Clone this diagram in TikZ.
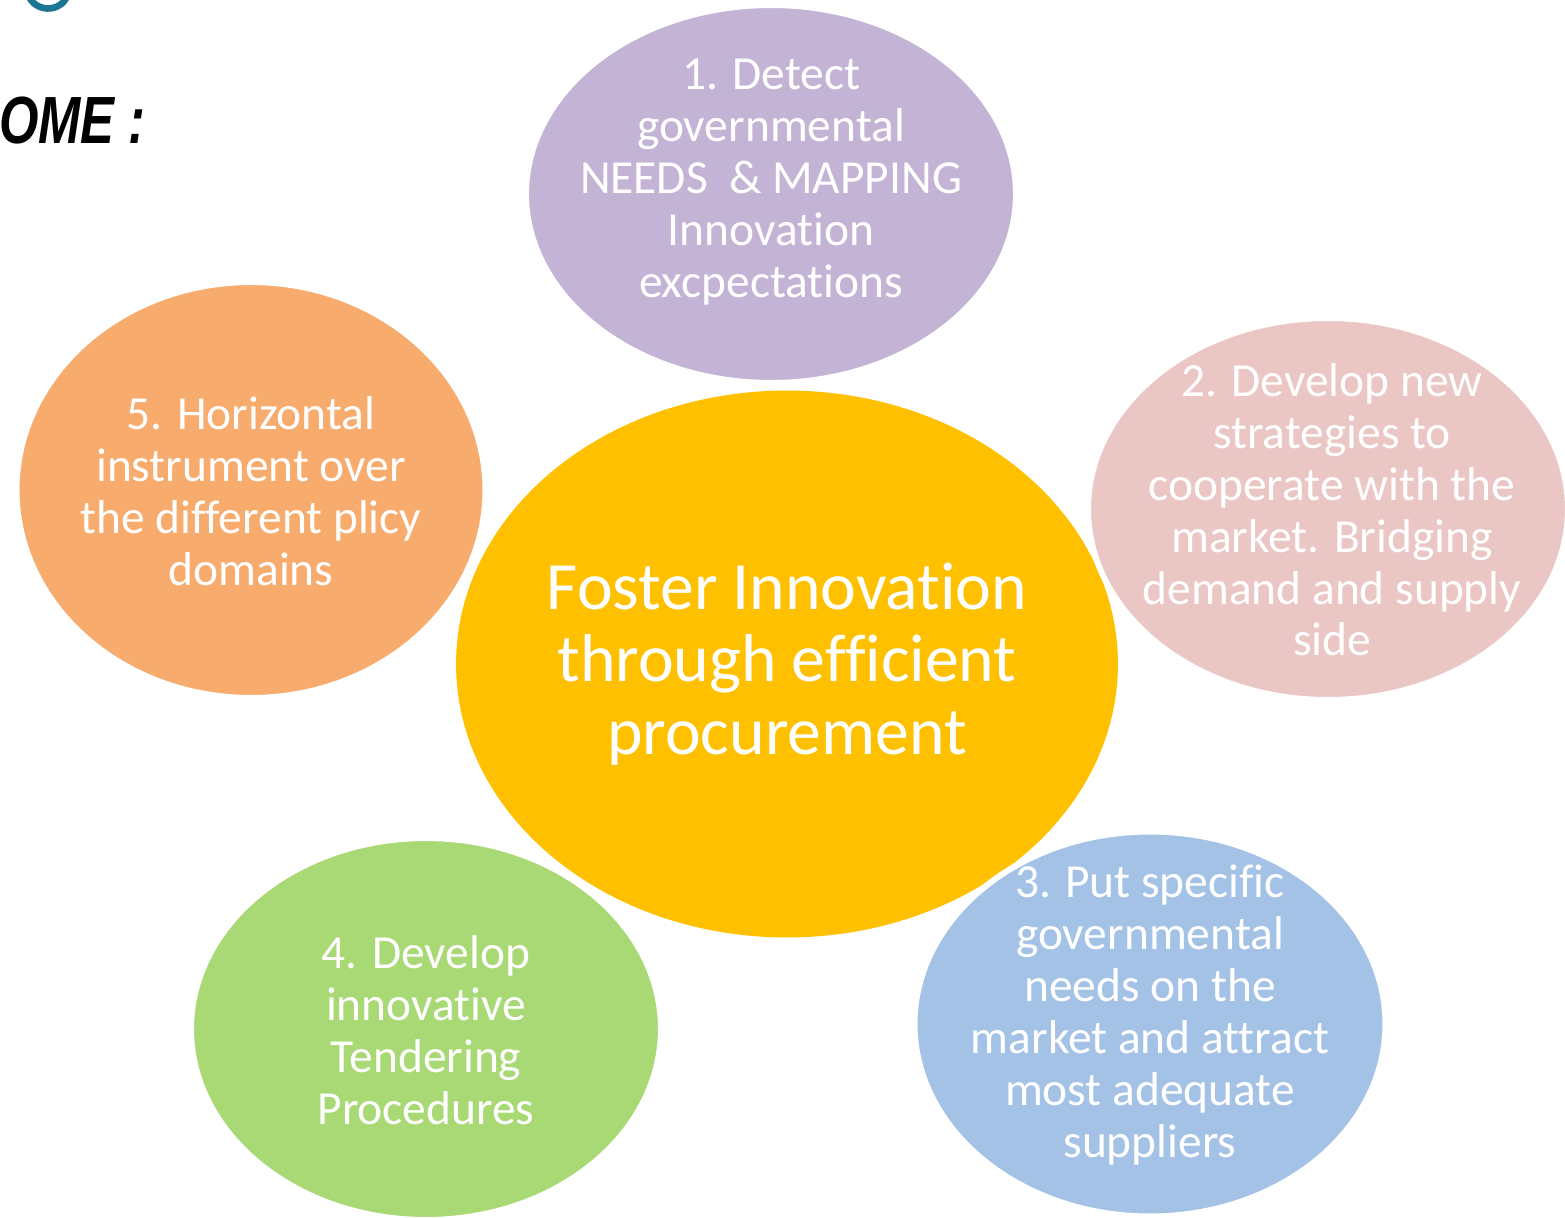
\documentclass[tikz,border=0pt]{standalone}
\usepackage{fontspec}
\setmainfont[Ligatures=NoCommon]{Carlito}
\newfontfamily\titlefont{Liberation Sans}
\usetikzlibrary{shapes.geometric}

\definecolor{hubcol}{HTML}{FFC000}
\definecolor{detectcol}{HTML}{C3B4D5}
\definecolor{strategycol}{HTML}{EAC6C5}
\definecolor{supplycol}{HTML}{A4C2E6}
\definecolor{tendercol}{HTML}{A8D975}
\definecolor{horizcol}{HTML}{F7AB6D}
\definecolor{tealcol}{HTML}{1B7593}

\begin{document}
\begin{tikzpicture}[
  x=0.02cm, y=-0.02cm,
  bubble/.style={ellipse, draw=white, line width=3.4pt, inner sep=0pt},
  hub/.style={ellipse, fill=hubcol, inner sep=0pt, minimum width=13.24cm, minimum height=10.94cm},
  smalltxt/.style={text=white, align=center, inner sep=0pt, font=\fontsize{27}{29.5}\selectfont},
  bigtxt/.style={text=white, align=center, inner sep=0pt, font=\fontsize{38.5}{41.4}\selectfont}
]
\useasboundingbox (0,0) rectangle (1565,1217);
\clip (0,0) rectangle (1565,1217);

% slide leftovers at the top left
\draw[tealcol, line width=3.8pt] (28.3,-6.4) arc[start angle=170, end angle=10, x radius=20, y radius=18];
\node[anchor=base east, inner sep=0pt, xscale=0.76, transform shape, font=\titlefont\fontsize{38}{38}\selectfont\itshape\bfseries] (title) at (146,143) {OME :};

% centre
\node[hub] (hub) at (787,664) {};

% the five steps around it
\node[bubble, fill=detectcol, minimum width=9.8cm, minimum height=7.56cm] (detect) at (771,194) {};
\node[bubble, fill=horizcol, minimum width=9.38cm, minimum height=8.32cm] (horiz) at (251,490) {};
\node[bubble, fill=tendercol, minimum width=9.4cm, minimum height=7.64cm] (tender) at (426,1029) {};
\node[bubble, fill=strategycol, minimum width=9.6cm, minimum height=7.64cm] (strategy) at (1328,509) {};
\node[bubble, fill=supplycol, minimum width=9.42cm, minimum height=7.7cm] (supply) at (1150,1024) {};

\node[bigtxt] (hub-t) at (787,664) {Foster Innovation\\through efficient\\procurement};
\node[smalltxt] (detect-t) at (771,182) {1. Detect\\governmental\\NEEDS \ \& MAPPING\\Innovation\\excpectations};
\node[smalltxt] (strategy-t) at (1332,510) {2. Develop new\\strategies to\\cooperate with the\\market. Bridging\\demand and supply\\side};
\node[smalltxt] (supply-t) at (1150,1015) {3. Put specific\\governmental\\needs on the\\market and attract\\most adequate\\suppliers};
\node[smalltxt] (tender-t) at (426,1030) {4. Develop\\innovative\\Tendering\\Procedures};
\node[smalltxt] (horiz-t) at (251,491) {5. Horizontal\\instrument over\\the different plicy\\domains};
\end{tikzpicture}
\end{document}
